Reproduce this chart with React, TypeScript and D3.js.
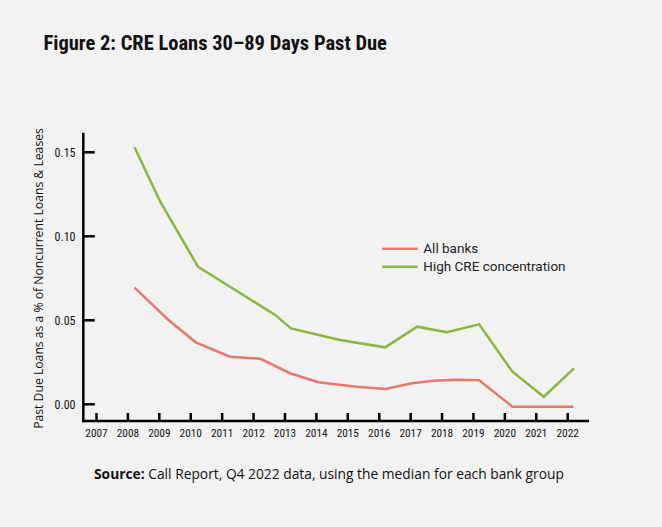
import React from 'react';
import * as d3 from 'd3';

const allBanksYears = [2008.21, 2009.29, 2010.16, 2011.25, 2012.22, 2013.16, 2014.06, 2015.28, 2016.2, 2017.04, 2017.72, 2018.47, 2019.18, 2020.24, 2021.2, 2022.18];
const allBanksValues = [0.0694, 0.0502, 0.0369, 0.0283, 0.0271, 0.0185, 0.0131, 0.0105, 0.0091, 0.0125, 0.014, 0.0146, 0.0143, -0.0014, -0.0014, -0.0014];

const highCreYears = [2008.21, 2009.03, 2010.23, 2012.69, 2013.19, 2014.75, 2016.19, 2017.21, 2018.15, 2019.18, 2020.24, 2021.24, 2022.2];
const highCreValues = [0.153, 0.1206, 0.0819, 0.0532, 0.0452, 0.0383, 0.0339, 0.0462, 0.0429, 0.0476, 0.0194, 0.0045, 0.0214];

const yearTicks = d3.range(2007, 2023);
const valueTicks = [0, 0.05, 0.1, 0.15];

const seriesNames = ['All banks', 'High CRE concentration'];
const seriesColors = ['#e7786a', '#8ab63e'];

const W = 662, H = 527;
const narrow = '"Liberation Sans Narrow", "Roboto Condensed", "Liberation Sans", sans-serif';

export default function App() {
    if (typeof document !== 'undefined') document.body.style.margin = '0';

    const x = d3.scaleLinear().domain([2007, 2022]).range([96.5, 567.7]);
    const y = d3.scaleLinear().domain([0, 0.15]).range([404.3, 152.3]);

    const axisX = 83.3;      // y axis position
    const axisY = 421;       // x axis position
    const axisTop = y(0.1617);
    const axisRight = 589;

    const line = d3.line<[number, number]>()
        .x(d => x(d[0]))
        .y(d => y(d[1]));

    const series = [
        d3.zip(allBanksYears, allBanksValues) as [number, number][],
        d3.zip(highCreYears, highCreValues) as [number, number][],
    ];

    return (
        <svg width={W} height={H} style={{ display: 'block', background: '#f2f2f2' }}>
            <rect width={W} height={H} fill="#f2f2f2" />
            <text x={43.5} y={49.5} fontFamily={narrow} fontWeight={700} fontSize={20.5} fill="#111">
                Figure 2: CRE Loans 30–89 Days Past Due
            </text>

            {/* axes */}
            <line x1={axisX} x2={axisX} y1={axisTop} y2={axisY + 1.2} stroke="#000" strokeWidth={2.5} />
            <line x1={axisX - 1.2} x2={axisRight} y1={axisY} y2={axisY} stroke="#000" strokeWidth={2.5} />

            {valueTicks.map(v => (
                <g key={v}>
                    <line x1={axisX} x2={axisX + 11.5} y1={y(v)} y2={y(v)} stroke="#000" strokeWidth={2.5} />
                    <text x={75.5} y={y(v)} dy="0.35em" textAnchor="end" fontFamily={narrow} fontSize={12} fill="#111">
                        {d3.format('.2f')(v)}
                    </text>
                </g>
            ))}

            {yearTicks.map(t => (
                <g key={t}>
                    <line x1={x(t)} x2={x(t)} y1={axisY} y2={axisY - 8} stroke="#000" strokeWidth={2.5} />
                    <text x={x(t)} y={433.5} dy="0.35em" textAnchor="middle" fontFamily={narrow} fontSize={11.3} fill="#111">
                        {t}
                    </text>
                </g>
            ))}

            <text transform="translate(42.5,278.5) rotate(-90)" textAnchor="middle"
                fontFamily='"Open Sans", "Noto Sans", sans-serif' fontSize={12.2} fill="#111">
                Past Due Loans as a % of Noncurrent Loans &amp; Leases
            </text>

            {series.map((s, i) => (
                <path key={i} d={line(s) ?? ''} fill="none" stroke={seriesColors[i]} strokeWidth={2.5} strokeLinejoin="miter" />
            ))}

            {/* legend */}
            {seriesNames.map((name, i) => (
                <g key={name} transform={`translate(382.3,${248.7 + i * 18})`}>
                    <line x1={0} x2={35.4} y1={0} y2={0} stroke={seriesColors[i]} strokeWidth={2.5} />
                    <text x={41} y={0} dy="0.35em" fontFamily="Roboto, sans-serif" fontSize={13.5} fill="#222">
                        {name}
                    </text>
                </g>
            ))}

            <text x={329} y={479} textAnchor="middle" fontFamily='"Open Sans", "Noto Sans", sans-serif' fontSize={13.8} fill="#111">
                <tspan fontWeight={700}>Source:</tspan> Call Report, Q4 2022 data, using the median for each bank group
            </text>
        </svg>
    );
}
